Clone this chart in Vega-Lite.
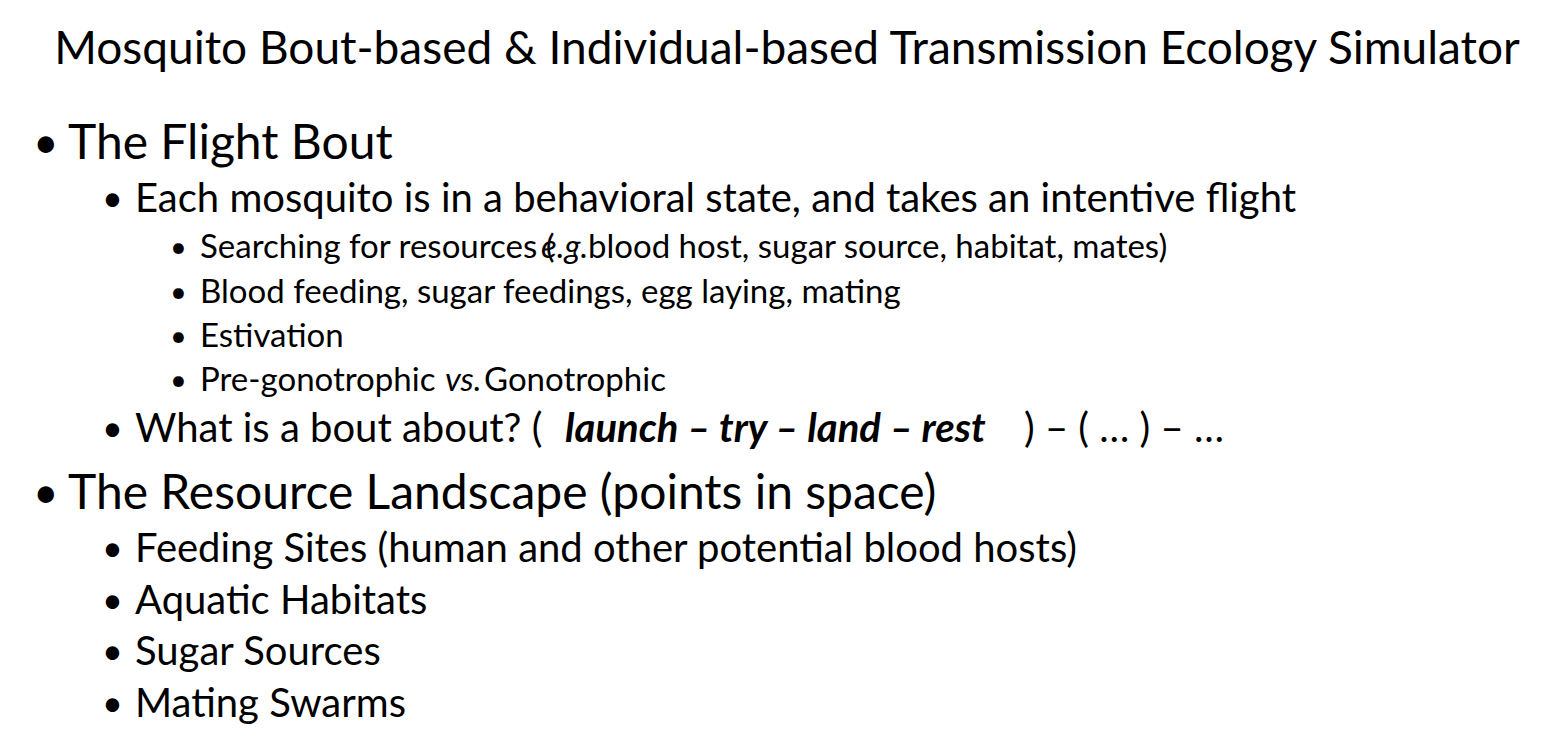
{
  "$schema": "https://vega.github.io/schema/vega-lite/v6.json",
  "autosize": {"type": "fit", "contains": "padding"},
  "width": 1550,
  "height": 740,
  "padding": 0,
  "background": "white",
  "config": {"view": {"stroke": null}, "text": {"font": "Lato", "color": "black"}},
  "data": {
    "values": [
      {"kind": "title", "x": 787, "y": 50, "text": "Mosquito Bout-based & Individual-based Transmission Ecology Simulator"},
      {"kind": "b1", "x": 33, "y": 145, "text": "•"},
      {"kind": "l1", "x": 68, "y": 145, "text": "The Flight Bout"},
      {"kind": "b2", "x": 102, "y": 200, "text": "•"},
      {"kind": "l2", "x": 135, "y": 200, "text": "Each mosquito is in a behavioral state, and takes an intentive flight"},
      {"kind": "b3", "x": 170, "y": 248, "text": "•"},
      {"kind": "l3", "x": 200, "y": 248, "text": "Searching for resources ("},
      {"kind": "l3i", "x": 541, "y": 248, "text": "e.g."},
      {"kind": "l3", "x": 588, "y": 248, "text": " blood host, sugar source, habitat, mates)"},
      {"kind": "b3", "x": 170, "y": 293, "text": "•"},
      {"kind": "l3", "x": 200, "y": 293, "text": "Blood feeding, sugar feedings, egg laying, mating"},
      {"kind": "b3", "x": 170, "y": 337, "text": "•"},
      {"kind": "l3", "x": 200, "y": 337, "text": "Estivation"},
      {"kind": "b3", "x": 170, "y": 381, "text": "•"},
      {"kind": "l3", "x": 200, "y": 381, "text": "Pre-gonotrophic"},
      {"kind": "l3i", "x": 445, "y": 381, "text": "vs."},
      {"kind": "l3", "x": 484, "y": 381, "text": " Gonotrophic"},
      {"kind": "b2", "x": 102, "y": 430, "text": "•"},
      {"kind": "l2", "x": 135, "y": 430, "text": "What is a bout about? ("},
      {"kind": "l2bi", "x": 565, "y": 430, "text": "launch – try – land – rest"},
      {"kind": "l2", "x": 1024, "y": 430, "text": ") – ( … ) – …"},
      {"kind": "b1", "x": 33, "y": 495, "text": "•"},
      {"kind": "l1", "x": 68, "y": 495, "text": "The Resource Landscape (points in space)"},
      {"kind": "b2", "x": 102, "y": 550, "text": "•"},
      {"kind": "l2", "x": 135, "y": 550, "text": "Feeding Sites (human and other potential blood hosts)"},
      {"kind": "b2", "x": 102, "y": 602, "text": "•"},
      {"kind": "l2", "x": 135, "y": 602, "text": "Aquatic Habitats"},
      {"kind": "b2", "x": 102, "y": 653, "text": "•"},
      {"kind": "l2", "x": 135, "y": 653, "text": "Sugar Sources"},
      {"kind": "b2", "x": 102, "y": 705, "text": "•"},
      {"kind": "l2", "x": 135, "y": 705, "text": "Mating Swarms"}
    ]
  },
  "encoding": {
    "x": {"field": "x", "type": "quantitative", "scale": {"domain": [0, 1550]}, "axis": null},
    "y": {"field": "y", "type": "quantitative", "scale": {"domain": [740, 0]}, "axis": null},
    "text": {"field": "text", "type": "nominal"}
  },
  "layer": [
    {"transform": [{"filter": "datum.kind == 'title'"}], "mark": {"type": "text", "fontSize": 46, "align": "center", "baseline": "middle"}},
    {"transform": [{"filter": "datum.kind == 'b1'"}], "mark": {"type": "text", "fontSize": 44, "align": "left", "baseline": "middle"}},
    {"transform": [{"filter": "datum.kind == 'l1'"}], "mark": {"type": "text", "fontSize": 48, "align": "left", "baseline": "middle"}},
    {"transform": [{"filter": "datum.kind == 'b2'"}], "mark": {"type": "text", "fontSize": 36, "align": "left", "baseline": "middle"}},
    {"transform": [{"filter": "datum.kind == 'l2'"}], "mark": {"type": "text", "fontSize": 40, "align": "left", "baseline": "middle"}},
    {"transform": [{"filter": "datum.kind == 'l2bi'"}], "mark": {"type": "text", "fontSize": 40, "fontWeight": "bold", "fontStyle": "italic", "align": "left", "baseline": "middle"}},
    {"transform": [{"filter": "datum.kind == 'b3'"}], "mark": {"type": "text", "fontSize": 29, "align": "left", "baseline": "middle"}},
    {"transform": [{"filter": "datum.kind == 'l3'"}], "mark": {"type": "text", "fontSize": 33, "align": "left", "baseline": "middle"}},
    {"transform": [{"filter": "datum.kind == 'l3i'"}], "mark": {"type": "text", "fontSize": 33, "fontStyle": "italic", "align": "left", "baseline": "middle"}}
  ]
}
